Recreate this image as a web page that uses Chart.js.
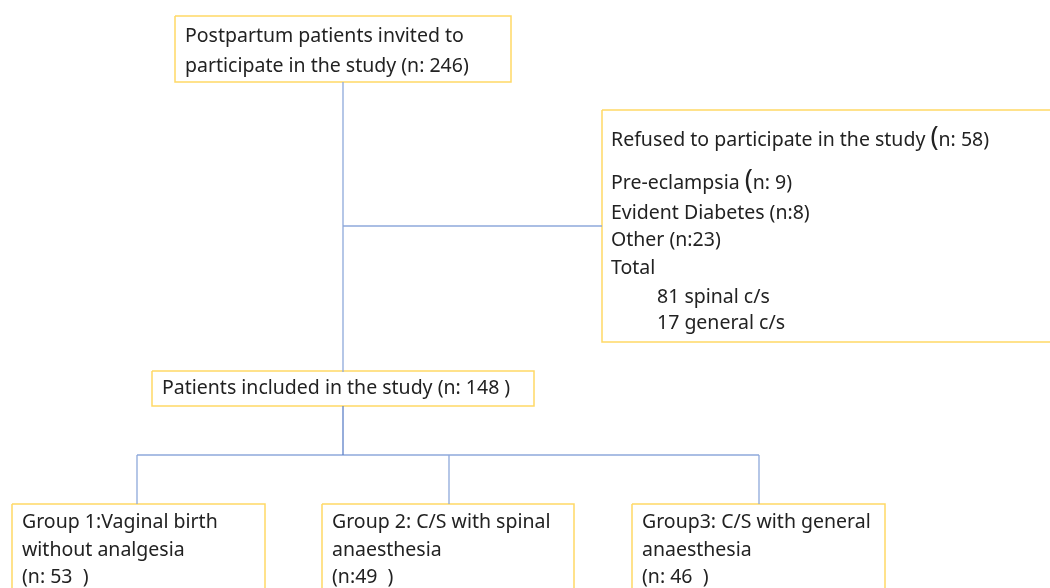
<!DOCTYPE html>
<html lang="en">
<head>
    <meta charset="UTF-8">
    <title>Study flow</title>
    <script src="https://cdn.jsdelivr.net/npm/chart.js"></script>
    <style>
        body{ margin:0; background:#fff; overflow:hidden; }
        #flow{ display:block; }
    </style>
</head>
<body>
    <canvas id="flow" width="1050" height="588"></canvas>

<script>
    // texts of each box
    let invitedText = ['Postpartum patients invited to', 'participate in the study (n: 246)'];
    let refusedText = ['Refused to participate in the study (n: 58)', 'Pre-eclampsia (n: 9)', 'Evident Diabetes (n:8)', 'Other (n:23)', 'Total', '81 spinal c/s', '17 general c/s'];
    let includedText = ['Patients included in the study (n: 148 )'];
    let group1Text = ['Group 1:Vaginal birth', 'without analgesia', '(n: 53  )'];
    let group2Text = ['Group 2: C/S with spinal', 'anaesthesia', '(n:49  )'];
    let group3Text = ['Group3: C/S with general', 'anaesthesia', '(n: 46  )'];

    // layout (page coords, scales are 0..1050 x 0..588)
    let boxes = [
        {x0:175, y0:16,  x1:511,  y1:82,  tx:185, lines:invitedText, ys:[36,66]},
        {x0:602, y0:110, x1:1060, y1:342, tx:611, lines:refusedText, ys:[140,183,213,240,268,297,323], indent:[5,6], big:[0,1]},
        {x0:152, y0:371, x1:534,  y1:406, tx:162, lines:includedText, ys:[388]},
        {x0:12,  y0:504, x1:265,  y1:600, tx:22,  lines:group1Text, ys:[522,550,577]},
        {x0:322, y0:504, x1:574,  y1:600, tx:332, lines:group2Text, ys:[522,550,577]},
        {x0:632, y0:504, x1:885,  y1:600, tx:642, lines:group3Text, ys:[522,550,577]}
    ];
    let links = [
        [[343,82],[343,372]],
        [[343,226],[602,226]],
        [[343,406],[343,455]],
        [[137,455],[759,455]],
        [[137,455],[137,504]],
        [[449,455],[449,504]],
        [[759,455],[759,504]]
    ];

    let boxColor = '#FFD966';
    let lineColor = '#8EA9DB';
    let font = '"Noto Sans", "Open Sans", sans-serif';
    let fontSize = 19.5;

    let datasets = [];
    links.forEach((l, i)=>{
        datasets.push({
            data: l.map(p => ({x:p[0], y:p[1]})),
            borderColor: i==2 ? '#5F82C8' : lineColor,
            borderWidth: 1.3,
            showLine: true,
            pointRadius: 0
        });
    });
    boxes.forEach(b=>{
        datasets.push({
            data: [{x:b.x0,y:b.y0},{x:b.x1,y:b.y0},{x:b.x1,y:b.y1},{x:b.x0,y:b.y1},{x:b.x0,y:b.y0}],
            borderColor: boxColor,
            borderWidth: 1.5,
            showLine: true,
            pointRadius: 0
        });
    });

    let boxText = {
        id: 'boxText',
        afterDatasetsDraw(chart){
            let ctx = chart.ctx;
            let sx = chart.scales.x, sy = chart.scales.y;
            ctx.save();
            ctx.fillStyle = '#222';
            ctx.textBaseline = 'middle';
            boxes.forEach(b=>{
                b.lines.forEach((t, i)=>{
                    let x = sx.getPixelForValue(b.tx + ((b.indent||[]).includes(i) ? 46 : 0));
                    let y = sy.getPixelForValue(b.ys[i]);
                    ctx.font = fontSize + 'px ' + font;
                    if((b.big||[]).includes(i)){
                        let k = t.indexOf('(');
                        let pre = t.slice(0, k), rest = t.slice(k+1);
                        ctx.fillText(pre, x, y);
                        x += ctx.measureText(pre).width;
                        ctx.font = '27px ' + font;
                        ctx.fillText('(', x, y-2);
                        x += ctx.measureText('(').width;
                        ctx.font = fontSize + 'px ' + font;
                        ctx.fillText(rest, x, y);
                    } else {
                        ctx.fillText(t, x, y);
                    }
                });
            });
            ctx.restore();
        }
    };

    new Chart(document.getElementById('flow'), {
        type: 'scatter',
        data: { datasets: datasets },
        options: {
            responsive: false,
            animation: false,
            events: [],
            layout: { padding: 0 },
            scales: {
                x: { type:'linear', min:0, max:1050, display:false },
                y: { type:'linear', min:0, max:588, reverse:true, display:false }
            },
            plugins: { legend:{display:false}, tooltip:{enabled:false} }
        },
        plugins: [boxText]
    });
</script>
</body>
</html>
